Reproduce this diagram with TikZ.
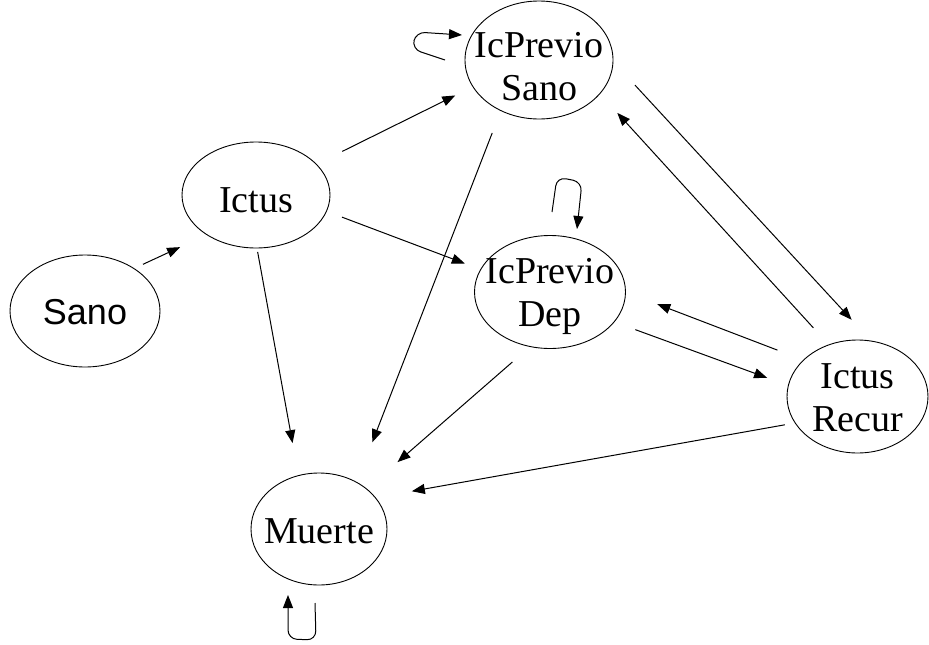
\documentclass[tikz,border=0pt]{standalone}
\usepackage{fontspec}
\setmainfont{Liberation Serif}
\newfontfamily\arialf{Liberation Sans}
\usetikzlibrary{shapes.geometric,arrows.meta}
\tikzset{
  st/.style={draw, ellipse, line width=0.9pt, inner sep=0pt, outer sep=0pt},
  arr/.style={line width=1pt, -{Triangle[length=13pt,width=10pt]}},
  loopy/.style={arr, rounded corners=9pt},
  lbl/.style={font=\fontsize{38}{43}\selectfont, align=center, inner sep=0pt}
}
\begin{document}
\begin{tikzpicture}[x=1pt,y=-1pt]
\useasboundingbox (0,0) rectangle (929,645);
\node[st, minimum width=150pt, minimum height=112pt,
  label={[lbl,font=\arialf\fontsize{36}{42}\selectfont,yshift=-1.5pt]center:Sano}] (sano) at (85,311) {};
\node[st, minimum width=148pt, minimum height=106pt,
  label={[lbl,yshift=-5pt]center:Ictus}] (ictus) at (256,195) {};
\node[st, minimum width=148pt, minimum height=118pt,
  label={[lbl,yshift=-6.5pt]center:IcPrevio\\Sano}] (ips) at (539,60) {};
\node[st, minimum width=151pt, minimum height=113pt,
  label={[lbl,yshift=-4pt]center:IcPrevio\\Dep}] (ipd) at (550,292) {};
\node[st, minimum width=141pt, minimum height=113pt,
  label={[lbl,yshift=-1pt]center:Ictus\\Recur}] (ir) at (857.5,396.5) {};
\node[st, minimum width=136pt, minimum height=112pt,
  label={[lbl,yshift=-2.5pt]center:Muerte}] (muerte) at (319,529) {};

\draw[arr, shorten <=10pt, shorten >=29.6pt] (sano.41) -- (ictus.219);
\draw[arr, shorten <=29pt, shorten >=19.8pt] (ictus.27) -- (ips.202);
\draw[arr, shorten <=16.6pt, shorten >=17pt] (ictus.347) -- (ipd.162);
\draw[arr, shorten <=4pt, shorten >=33pt] (ictus.271) -- (muerte.111);
\draw[arr, shorten <=24pt, shorten >=43pt] (ips.233) -- (muerte.51);
\draw[arr, shorten <=32.5pt, shorten >=29pt] (ips.359) -- (ir.76);
\draw[arr, shorten <=23pt, shorten >=26pt] (ir.119) -- (ips.331);
\draw[arr, shorten <=28pt, shorten >=34pt] (ir.146) -- (ipd.0);
\draw[arr, shorten <=22.6pt, shorten >=22.6pt] (ipd.335) -- (ir.171);
\draw[arr, shorten <=23.6pt, shorten >=41pt] (ipd.250) -- (muerte.40);
\draw[arr, shorten <=10.5pt, shorten >=37pt] (ir.203) -- (muerte.29);

\draw[loopy] ([xshift=-20pt]ips.west) -- ++(-33,-11) -- ++(4,-17) -- ++(46,3);
\draw[loopy] ([shift={(2pt,23.5pt)}]ipd.north) -- ++(5,-35) -- ++(25,5) -- ++(-5,47);
\draw[loopy] ([shift={(-4pt,-18pt)}]muerte.south) -- ++(1,37) -- ++(-28,-1) -- ++(0,-44);
\end{tikzpicture}
\end{document}
